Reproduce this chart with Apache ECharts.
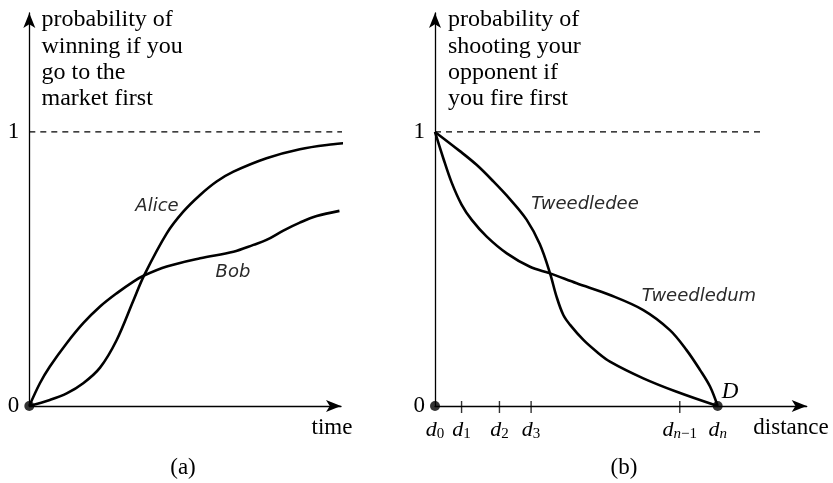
<!DOCTYPE html>
<html>
<head>
<meta charset="utf-8">
<script src="https://cdn.jsdelivr.net/npm/echarts@6/dist/echarts.min.js"></script>
<style>
  html, body { margin: 0; padding: 0; background: #fff; }
  #chart { width: 833px; height: 483px; }
</style>
</head>
<body>
<div id="chart"></div>
<script>
// Panel (a): probability of winning vs. time
const aliceT = [0, 6.6, 12.0, 17.3, 22.7, 28.0, 33.4, 36.8, 44.1, 49.4, 54.8, 60.1, 65.5, 76.1, 86.8, 97.5, 104.0];
const aliceP = [0, 0.022, 0.046, 0.083, 0.140, 0.240, 0.385, 0.476, 0.630, 0.709, 0.770, 0.819, 0.855, 0.904, 0.937, 0.955, 0.962];
const bobT = [0, 3.4, 6.6, 12.0, 17.3, 22.7, 28.0, 33.4, 36.8, 44.1, 54.8, 65.5, 71.9, 76.1, 81.5, 86.8, 92.2, 99.5];
const bobP = [0, 0.083, 0.144, 0.229, 0.302, 0.363, 0.411, 0.454, 0.476, 0.509, 0.539, 0.563, 0.588, 0.606, 0.640, 0.669, 0.693, 0.712];

// Panel (b): probability of hitting vs. distance (D = 1)
const deeD = [0, 0.088, 0.147, 0.206, 0.265, 0.324, 0.371, 0.407, 0.430, 0.454, 0.478, 0.525, 0.572, 0.619, 0.737, 0.855, 1.0];
const deeP = [1, 0.930, 0.880, 0.820, 0.755, 0.680, 0.590, 0.484, 0.399, 0.332, 0.296, 0.241, 0.198, 0.162, 0.101, 0.052, 0];
const dumD = [0, 0.029, 0.059, 0.094, 0.130, 0.183, 0.254, 0.336, 0.407, 0.501, 0.619, 0.737, 0.831, 0.890, 0.938, 0.973, 1.0];
const dumP = [1, 0.905, 0.815, 0.735, 0.679, 0.618, 0.557, 0.508, 0.484, 0.448, 0.405, 0.350, 0.277, 0.204, 0.131, 0.071, 0];

const distTicks = [0, 0.094, 0.228, 0.340, 0.866, 1.0];
const distTickSubs = ['0', '1', '2', '3', 'n\u22121', 'n'];
const innerTicks = [0.094, 0.228, 0.340, 0.866];
const probTicks = [0, 1];
const certainty = 1;
const timeDashEnd = 105;
const distDashEnd = 1.159;

const zip = (xs, ys) => xs.map((x, i) => [x, ys[i]]);

const SERIF = '"Liberation Serif", "Times New Roman", serif';
const HAND = '"DejaVu Sans", sans-serif';
const INK = '#000';

function axisLineStyle() {
  return {
    show: true,
    symbol: ['none', 'arrow'],
    symbolSize: [9, 15],
    lineStyle: { color: INK, width: 1.3 }
  };
}

function yAxisFor(gridIndex) {
  return {
    type: 'value', gridIndex, min: 0, max: 1.434,
    axisLine: axisLineStyle(),
    axisTick: { show: false },
    splitLine: { show: false },
    axisLabel: {
      customValues: probTicks, margin: 10,
      fontFamily: SERIF, fontSize: 23, color: INK
    }
  };
}

// subscript: letters italic, digits and minus upright
function subscriptRich(sub) {
  let out = '';
  for (const ch of sub) {
    out += /[a-z]/.test(ch) ? '{si|' + ch + '}' : '{s|' + ch + '}';
  }
  return out;
}

const curveStyle = { color: INK, width: 2.6 };
const handStyle = { fontFamily: HAND, fontStyle: 'italic', fontWeight: 'lighter', fontSize: 18, fill: '#2a2a2a' };

const chart = echarts.init(document.getElementById('chart'), null, { renderer: 'canvas' });

const label = (text, x, y, opts) => ({
  type: 'text', x, y,
  style: Object.assign({
    text, fill: INK, fontFamily: SERIF, fontSize: 23,
    align: 'center', verticalAlign: 'middle'
  }, opts || {})
});

const curve = (name, xi, data) => ({
  name, type: 'line', xAxisIndex: xi, yAxisIndex: xi, data,
  symbol: 'none', smooth: 0.35, clip: false,
  lineStyle: curveStyle
});

chart.setOption({
  animation: false,
  backgroundColor: '#fff',
  grid: [
    { left: 29.3, top: 13, width: 311.7, height: 393 },
    { left: 435, top: 13, width: 371.7, height: 393 }
  ],
  xAxis: [
    {
      type: 'value', gridIndex: 0, min: 0, max: 100,
      axisLine: axisLineStyle(),
      axisTick: { show: false },
      axisLabel: { show: false },
      splitLine: { show: false }
    },
    {
      type: 'value', gridIndex: 1, min: 0, max: 1.315,
      axisLine: axisLineStyle(),
      axisTick: { show: false },
      splitLine: { show: false },
      axisLabel: {
        customValues: distTicks, margin: 12,
        formatter: function (v) {
          const i = distTicks.indexOf(v);
          if (i < 0) return '';
          return '{d|d}' + subscriptRich(distTickSubs[i]);
        },
        rich: {
          d: { fontFamily: SERIF, fontStyle: 'italic', fontSize: 22, color: INK, lineHeight: 24 },
          s: { fontFamily: SERIF, fontSize: 15, color: INK, lineHeight: 24, verticalAlign: 'bottom', padding: [10, 0, 0, 0] },
          si: { fontFamily: SERIF, fontStyle: 'italic', fontSize: 15, color: INK, lineHeight: 24, verticalAlign: 'bottom', padding: [10, 0, 0, 0] }
        }
      }
    }
  ],
  yAxis: [yAxisFor(0), yAxisFor(1)],
  series: [
    {
      type: 'line', xAxisIndex: 0, yAxisIndex: 0, data: [[0, certainty], [timeDashEnd, certainty]],
      symbol: 'none', clip: false, silent: true,
      lineStyle: { color: INK, width: 1.2, type: [6, 5] }
    },
    curve('Alice', 0, zip(aliceT, aliceP)),
    curve('Bob', 0, zip(bobT, bobP)),
    {
      type: 'scatter', xAxisIndex: 0, yAxisIndex: 0, data: [[0, 0]],
      symbol: 'circle', symbolSize: 10, itemStyle: { color: INK }, z: 5
    },
    {
      type: 'line', xAxisIndex: 1, yAxisIndex: 1, data: [[0, certainty], [distDashEnd, certainty]],
      symbol: 'none', clip: false, silent: true,
      lineStyle: { color: INK, width: 1.2, type: [6, 5] }
    },
    curve('Tweedledee', 1, zip(deeD, deeP)),
    curve('Tweedledum', 1, zip(dumD, dumP)),
    {
      type: 'scatter', xAxisIndex: 1, yAxisIndex: 1, data: innerTicks.map(d => [d, 0]),
      symbol: 'rect', symbolSize: [1.4, 12], symbolOffset: [0, 1], itemStyle: { color: INK }, z: 4
    },
    {
      type: 'scatter', xAxisIndex: 1, yAxisIndex: 1, data: [[0, 0], [1, 0]],
      symbol: 'circle', symbolSize: 10, itemStyle: { color: INK }, z: 5
    }
  ],
  graphic: [
    label('probability of\nwinning if you\ngo to the\nmarket first', 41.5, 7,
      { align: 'left', verticalAlign: 'top', fontSize: 24, lineHeight: 26.3 }),
    label('probability of\nshooting your\nopponent if\nyou fire first', 448, 7,
      { align: 'left', verticalAlign: 'top', fontSize: 24, lineHeight: 26.3 }),
    label('time', 332, 428),
    label('distance', 791, 428),
    label('(a)', 183, 468),
    label('(b)', 624, 468),
    label('D', 730, 392, { fontStyle: 'italic' }),
    label('Alice', 157, 206, handStyle),
    label('Bob', 233, 272, handStyle),
    label('Tweedledee', 585, 204, handStyle),
    label('Tweedledum', 699, 296, handStyle)
  ]
});
</script>
</body>
</html>
